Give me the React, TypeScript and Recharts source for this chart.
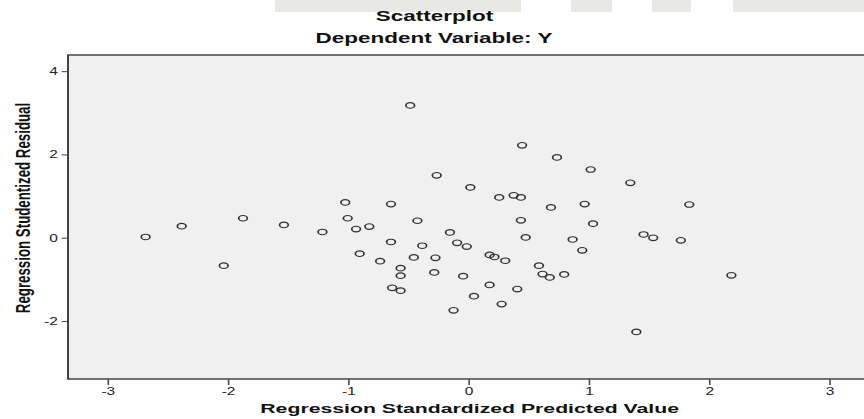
import { ScatterChart, Scatter, XAxis, YAxis, CartesianGrid, ReferenceArea, Label } from 'recharts';

// predicted value (standardized) and studentized residual
const predicted = [
  -2.69, -2.39, -1.88, -1.54, -1.22, -2.04,
  -1.03, -0.65, -1.01, -0.43, -0.94, -0.83, -0.16, 0.43, 0.68, 0.96, 1.03,
  -0.65, -0.39, -0.1, -0.02, 0.47, 0.86, 0.94,
  -0.91, -0.74, -0.46, -0.28, 0.17, 0.21, 0.3, 0.58,
  -0.57, -0.57, -0.29, -0.05, 0.61, 0.67, 0.79,
  -0.64, -0.57, 0.17, 0.4, 0.04, 0.27, -0.13,
  -0.49, 0.44, 0.73, 1.01, -0.27, 0.01, 0.25, 0.37, 0.43,
  1.34, 1.83, 1.45, 1.53, 1.76, 2.18, 1.39,
];
const residual = [
  0.03, 0.29, 0.48, 0.32, 0.15, -0.66,
  0.86, 0.82, 0.48, 0.42, 0.22, 0.28, 0.14, 0.43, 0.74, 0.82, 0.35,
  -0.09, -0.18, -0.11, -0.2, 0.02, -0.03, -0.29,
  -0.37, -0.55, -0.46, -0.47, -0.4, -0.45, -0.54, -0.66,
  -0.72, -0.9, -0.82, -0.91, -0.86, -0.94, -0.87,
  -1.19, -1.26, -1.12, -1.22, -1.39, -1.58, -1.73,
  3.19, 2.23, 1.94, 1.65, 1.51, 1.22, 0.98, 1.03, 0.98,
  1.33, 0.81, 0.09, 0.01, -0.05, -0.89, -2.25,
];
const xTicks = [-3, -2, -1, 0, 1, 2, 3];
const yTicks = [-2, 0, 2, 4];
const xDomain = [-3.335, 3.335];
const yDomain = [-3.38, 4.4];

const points = predicted.map((x, i) => ({ x: x, y: residual[i] }));

// the source picture is stretched sideways, so the whole chart is scaled in x
const SX = 1.55;
const font = '"Liberation Sans", Arial, sans-serif';

const OpenCircle = (props: any) => (
  <circle cx={props.cx} cy={props.cy} r={2.8} fill="none" stroke="#333" strokeWidth={1.1} />
);

const watermark = [
  [275, 521],
  [571, 612],
  [652, 691],
  [733, 864],
];

const App = () => {
  return (
    <div style={{ position: 'absolute', left: 0, top: 0, width: 864, height: 419, overflow: 'hidden', background: '#fff' }}>
      {watermark.map((w, i) => (
        <div key={i} style={{ position: 'absolute', left: w[0], top: 0, width: w[1] - w[0], height: 12, background: '#e8e8e4' }} />
      ))}
      <div style={{ position: 'absolute', left: 0, top: 0, width: 568, height: 419, transform: `scaleX(${SX})`, transformOrigin: '0 0' }}>
        <svg width={568} height={60} style={{ position: 'absolute', left: 0, top: 0 }}>
          <text x={280.3} y={21} textAnchor="middle" fontFamily={font} fontWeight="bold" fontSize={14.5} fill="#111">
            Scatterplot
          </text>
          <text x={280} y={43} textAnchor="middle" fontFamily={font} fontWeight="bold" fontSize={14.5} fill="#111">
            Dependent Variable: Y
          </text>
        </svg>
        <ScatterChart width={568} height={419} margin={{ top: 55, right: 6.5, bottom: 0, left: 0 }}>
          <CartesianGrid fill="#f0f0f0" horizontal={false} vertical={false} />
          <XAxis
            type="number"
            dataKey="x"
            domain={xDomain}
            ticks={xTicks}
            allowDataOverflow
            height={40}
            axisLine={false}
            tickLine={{ stroke: '#444' }}
            tickSize={6}
            tickMargin={3}
            tick={{ fontSize: 10, fill: '#222', fontFamily: font }}
          >
            <Label
              content={() => (
                <text x={303} y={413} textAnchor="middle" fontFamily={font} fontWeight="bold" fontSize={13.7} fill="#111">
                  Regression Standardized Predicted Value
                </text>
              )}
            />
          </XAxis>
          <YAxis
            type="number"
            dataKey="y"
            domain={yDomain}
            ticks={yTicks}
            allowDataOverflow
            width={43.87}
            axisLine={false}
            tickLine={{ stroke: '#444' }}
            tickSize={4.1}
            tickMargin={2.4}
            tick={{ fontSize: 10, fill: '#222', fontFamily: font }}
          >
            <Label
              content={() => (
                <text
                  x={14.5}
                  y={208}
                  transform="rotate(-90 14.5 208)"
                  textAnchor="middle"
                  dominantBaseline="central"
                  fontFamily={font}
                  fontWeight="bold"
                  fontSize={13.3}
                  fill="#111"
                >
                  Regression Studentized Residual
                </text>
              )}
            />
          </YAxis>
          <ReferenceArea
            x1={xDomain[0]}
            x2={xDomain[1]}
            y1={yDomain[0]}
            y2={yDomain[1]}
            fill="none"
            fillOpacity={0}
            stroke="#444"
            strokeWidth={1.3}
            ifOverflow="visible"
          />
          <Scatter data={points} shape={OpenCircle} isAnimationActive={false} />
        </ScatterChart>
      </div>
    </div>
  );
};

export default App;
